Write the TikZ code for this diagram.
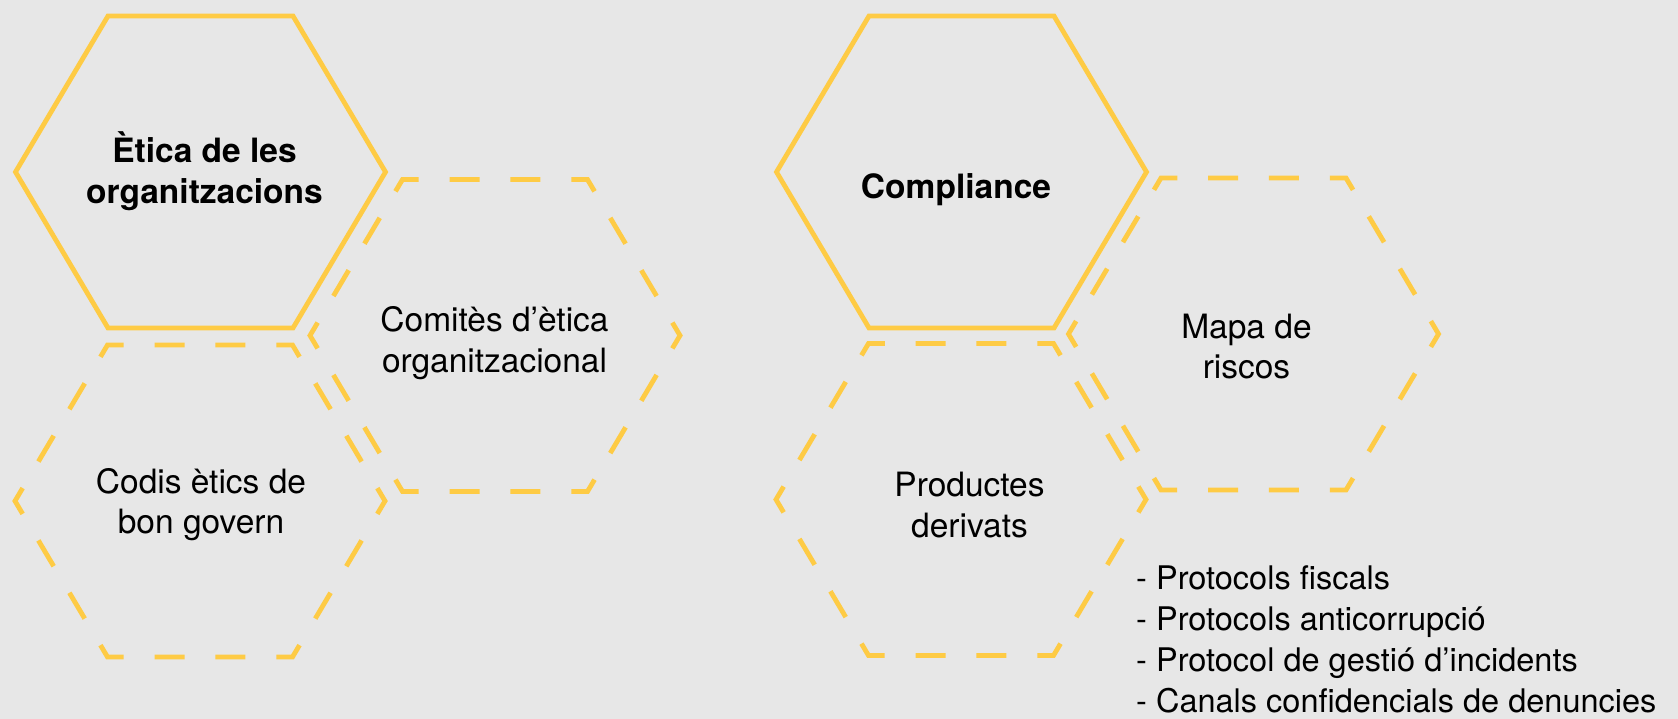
\documentclass[tikz,border=0pt]{standalone}
\usepackage{fontspec}
\setmainfont{TeX Gyre Heros}
\definecolor{hexyellow}{HTML}{FECB45}
\definecolor{bggray}{HTML}{E7E7E7}
\newcommand{\hexpath}{(0,-156) -- (92.5,-156) -- (185,0) -- (92.5,156) -- (-92.5,156) -- (-185,0) -- (-92.5,-156) -- cycle}
\tikzset{
	hexsolid/.style={draw=hexyellow, line width=4.8pt},
	hexdashed/.style={hexsolid, dash pattern=on 30pt off 30.86pt, dash phase=45.43pt},
	hexlabel/.style={inner sep=0pt, align=center, font=\fontsize{33.5}{40.5}\selectfont},
	hextitle/.style={hexlabel, font=\fontsize{33.5}{40.5}\selectfont\bfseries},
}
\begin{document}
\begin{tikzpicture}[x=1pt, y=-1pt]
		% Background
		\fill[bggray] (0,0) rectangle (1678,719);
		% Left group of hexagons
		\draw[hexsolid, shift={(200.5,172)}] \hexpath;
		\draw[hexdashed, shift={(495,335.5)}] \hexpath;
		\draw[hexdashed, shift={(200,501)}] \hexpath;
		% Right group of hexagons
		\draw[hexsolid, shift={(961.5,172)}] \hexpath;
		\draw[hexdashed, shift={(1253.5,334)}] \hexpath;
		\draw[hexdashed, shift={(961,499.5)}] \hexpath;
		% Labels
		\node[hextitle] (etica) at (204.5,171.3) {Ètica de les\\organitzacions};
		\node[hexlabel] (comites) at (494.5,342.9) {Comitès d’ètica\\organitzacional};
		\node[hexlabel] (codis) at (201,504.7) {Codis ètics de\\bon govern};
		\node[hextitle, anchor=base] (compliance) at (956,198.3) {Compliance};
		\node[hexlabel] (mapa) at (1246.5,346.7) {Mapa de\\riscos};
		\node[hexlabel] (productes) at (969.5,505.2) {Productes\\derivats};
		% List of protocols
		\node[hexlabel, align=left, anchor=north west, font=\fontsize{32.5}{41}\selectfont] (protocols) at (1136,566) {- Protocols fiscals\\- Protocols anticorrupció\\- Protocol de gestió d’incidents\\- Canals confidencials de denuncies};
	\end{tikzpicture}
\end{document}
